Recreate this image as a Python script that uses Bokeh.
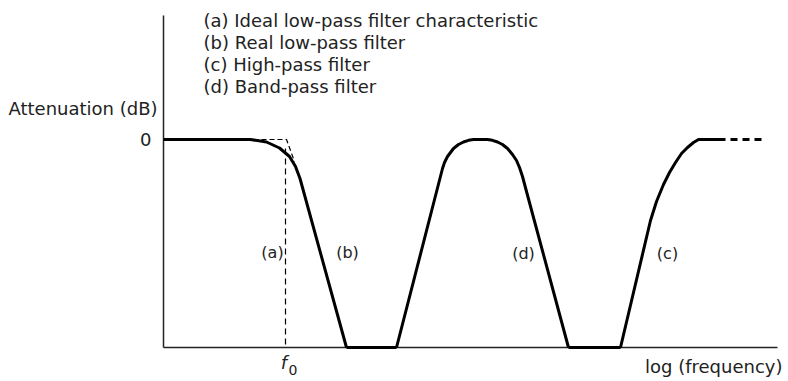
from bokeh.plotting import figure
from bokeh.models import Range1d, Label
from bokeh.embed import file_html
from bokeh.resources import INLINE

# x: log frequency (arbitrary units, 0 = axis origin); y: attenuation (0 = pass band)
# (b) real low-pass filter
lp_x = [0, 87, 103, 116, 126, 132, 136.5, 183]
lp_y = [0, 0, -2.5, -8.5, -17, -27, -39, -208]
# stop band between low-pass and band-pass
stop1_x = [183, 233]
stop1_y = [-208, -208]
# (d) band-pass filter
bp_x = [233, 279, 281, 284, 287, 290, 295, 300, 305, 310, 324,
        329, 334, 339, 344, 349, 353, 356, 359, 363, 405]
bp_y = [-208, -29, -23, -17, -13, -9, -5, -2.5, -0.8, 0, 0,
        -0.8, -2.5, -5, -9, -15, -21, -28, -37, -52, -208]
# stop band between band-pass and high-pass
stop2_x = [405, 457]
stop2_y = [-208, -208]
# (c) high-pass filter
hp_x = [457, 487, 493, 500, 506, 512, 518, 524, 530, 535, 562]
hp_y = [-208, -81, -62, -45, -33, -23, -14, -8, -3, 0, 0]
hp_cont_x = [567, 602]
hp_cont_y = [0, 0]
# (a) ideal low-pass characteristic
ideal_x = [90, 123, 131]
ideal_y = [0, 0, -22]
f0_x = [122, 122]
f0_y = [-9, -208]
# axes
yaxis_x = [0, 0]
yaxis_y = [124, -208]
xaxis_x = [0, 614]
xaxis_y = [-208, -208]

legend_lines = ["(a) Ideal low-pass filter characteristic",
                "(b) Real low-pass filter",
                "(c) High-pass filter",
                "(d) Band-pass filter"]
legend_y = [119, 97, 75, 53]
curve_labels = ["(a)", "(b)", "(d)", "(c)"]
curve_label_x = [109, 184, 360, 504]
curve_label_y = [-113, -113, -114, -114]

p = figure(width=786, height=379, output_backend="svg", toolbar_location=None,
           x_range=Range1d(-163, 623), y_range=Range1d(-240, 139),
           min_border=0, outline_line_color=None)
p.axis.visible = False
p.xgrid.visible = False
p.ygrid.visible = False

INK = "#000000"
TXT = "#222222"
FONT = "DejaVu Sans"
FS = "18px"

p.line(yaxis_x, yaxis_y, line_color="#222222", line_width=1.5)
p.line(xaxis_x, xaxis_y, line_color="#222222", line_width=1.5)

p.line(ideal_x, ideal_y, line_color=INK, line_width=1.2, line_dash="5 3")
p.line(f0_x, f0_y, line_color=INK, line_width=1.2, line_dash="6 4")

for xs, ys in [(lp_x, lp_y), (stop1_x, stop1_y), (bp_x, bp_y), (stop2_x, stop2_y), (hp_x, hp_y)]:
    p.line(xs, ys, line_color=INK, line_width=3, line_join="round")
p.line(hp_cont_x, hp_cont_y, line_color=INK, line_width=3, line_dash="7 5")

for t, ly in zip(legend_lines, legend_y):
    p.add_layout(Label(x=40, y=ly, text=t, text_font=FONT, text_font_size=FS,
                       text_color=TXT, text_baseline="middle", text_align="left"))
p.add_layout(Label(x=-6, y=31, text="Attenuation (dB)", text_font=FONT, text_font_size=FS,
                   text_color=TXT, text_baseline="middle", text_align="right"))
p.add_layout(Label(x=-12, y=0, text="0", text_font=FONT, text_font_size=FS,
                   text_color=TXT, text_baseline="middle", text_align="right"))
for t, lx, ly in zip(curve_labels, curve_label_x, curve_label_y):
    p.add_layout(Label(x=lx, y=ly, text=t, text_font=FONT, text_font_size="16px",
                       text_color=TXT, text_baseline="middle", text_align="center"))
p.add_layout(Label(x=120.5, y=-223, text="f", text_font=FONT, text_font_size=FS,
                   text_font_style="italic", text_color=TXT, text_baseline="middle",
                   text_align="center"))
p.add_layout(Label(x=129.5, y=-230, text="0", text_font=FONT, text_font_size="14px",
                   text_color=TXT, text_baseline="middle", text_align="center"))
p.add_layout(Label(x=619, y=-227, text="log (frequency)", text_font=FONT, text_font_size=FS,
                   text_color=TXT, text_baseline="middle", text_align="right"))

open("out.html", "w").write(file_html(p, INLINE))
